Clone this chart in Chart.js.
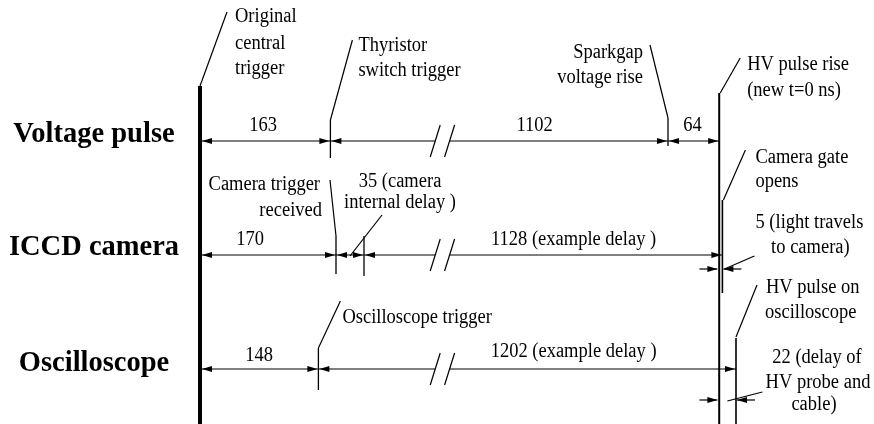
<!DOCTYPE html>
<html>
<head>
<meta charset="utf-8">
<script src="https://cdn.jsdelivr.net/npm/chart.js@4.4.1/dist/chart.umd.min.js"></script>
<style>
  html, body { margin: 0; padding: 0; background: #fff; }
  #wrap { width: 874px; height: 424px; }
</style>
</head>
<body>
<div id="wrap"><canvas id="timing"></canvas></div>
<script>
// rows of the timing diagram (top to bottom)
const rowNames = ['Voltage pulse', 'ICCD camera', 'Oscilloscope'];

// delays in ns between successive events of each row
const voltageDelays = [163, 1102, 64];
const cameraDelays = [170, 35, 1128];
const scopeDelays = [148, 1202];
const lightTravel = 5;   // HV rise -> camera gate
const probeDelay = 22;   // HV rise -> seen on oscilloscope

// segment labels
const voltageLabels = ['163', '1102', '64'];
const cameraLabels = ['170', '35 (camera', '1128 (example delay )'];
const scopeLabels = ['148', '1202 (example delay )'];

// broken time axis (ns)
const breakStart = 294;
const breakEnd = 992;
const breakShown = 18;

const cum = a => a.reduce((acc, d) => { acc.push(acc[acc.length - 1] + d); return acc; }, [0]);
const vT = cum(voltageDelays);   // 0, 163, 1265, 1329
const cT = cum(cameraDelays);    // 0, 170, 205, 1333
const sT = cum(scopeDelays);     // 0, 148, 1350

function squeeze(t) {
    if (t <= breakStart) return t;
    if (t >= breakEnd) return t - (breakEnd - breakStart) + breakShown;
    return breakStart + (t - breakStart) * breakShown / (breakEnd - breakStart);
}

const ink = '#000';
const serif = '"Liberation Serif", "Times New Roman", serif';

// horizontal dimension lines, cut at the axis break
const datasets = [];
[vT, cT, sT].forEach((ts, r) => {
    const end = ts[ts.length - 1];
    datasets.push({ data: [{ x: squeeze(0), y: r }, { x: squeeze(breakStart), y: r }] });
    datasets.push({ data: [{ x: squeeze(breakEnd), y: r }, { x: squeeze(end), y: r }] });
});
datasets.forEach(d => {
    d.borderColor = ink;
    d.borderWidth = 1.2;
    d.pointRadius = 0;
    d.fill = false;
    d.tension = 0;
});

const diagramPlugin = {
    id: 'diagram',
    afterDatasetsDraw(chart) {
        const ctx = chart.ctx;
        const xs = chart.scales.x, ys = chart.scales.y;
        const X = t => xs.getPixelForValue(squeeze(t));
        const Y = r => ys.getPixelForValue(r);
        const bottom = chart.height;

        const line = (x1, y1, x2, y2, w) => {
            ctx.lineWidth = w;
            ctx.beginPath();
            ctx.moveTo(x1, y1);
            ctx.lineTo(x2, y2);
            ctx.stroke();
        };
        const head = (x, y, dir) => {
            ctx.beginPath();
            ctx.moveTo(x, y);
            ctx.lineTo(x - dir * 10, y - 3);
            ctx.lineTo(x - dir * 10, y + 3);
            ctx.closePath();
            ctx.fill();
        };
        // the reference type is a little taller than it is wide
        const text = (s, x, y, align, font, stretch) => {
            ctx.save();
            ctx.font = font || ('18.5px ' + serif);
            ctx.textAlign = align || 'left';
            ctx.textBaseline = 'alphabetic';
            ctx.translate(x, y);
            ctx.scale(1, stretch || 1.08);
            ctx.fillText(s, 0, 0);
            ctx.restore();
        };

        ctx.save();
        ctx.strokeStyle = ink;
        ctx.fillStyle = ink;
        ctx.lineCap = 'butt';

        const gate = cT[3];

        // event lines
        line(X(0), Y(0) - 55, X(0), bottom, 4);
        line(X(vT[3]), Y(0) - 48, X(vT[3]), bottom, 2);
        line(X(gate), Y(1) - 55, X(gate), Y(1) + 38, 1.6);
        line(X(sT[2]), Y(2) - 31, X(sT[2]), bottom, 1.6);

        // ticks
        line(X(vT[1]), Y(0) - 21, X(vT[1]), Y(0) + 17, 1.3);
        line(X(vT[2]), Y(0) - 23, X(vT[2]), Y(0) + 5, 1.3);
        line(X(cT[1]), Y(1) - 19, X(cT[1]), Y(1) + 19, 1.3);
        line(X(cT[2]), Y(1) - 19, X(cT[2]), Y(1) + 21, 1.3);
        line(X(sT[1]), Y(2) - 21, X(sT[1]), Y(2) + 21, 1.3);

        // arrowheads + break marks
        [vT, cT, sT].forEach((ts, r) => {
            for (let i = 0; i < ts.length - 1; i++) {
                head(X(ts[i]) + (i === 0 ? 2 : 1), Y(r), -1);
                head(X(ts[i + 1]) - 1, Y(r), 1);
            }
            [breakStart, breakEnd].forEach(t => line(X(t) - 5, Y(r) + 16, X(t) + 5, Y(r) - 16, 1.2));
        });

        // small delays shown with outside arrows
        const dimOut = (t1, t2, y) => {
            const a = X(t1) - 1, b = X(t2) + 1;
            line(a - 18, y, a, y, 1.2);
            head(a, y, 1);
            line(b, y, b + 18, y, 1.2);
            head(b, y, -1);
        };
        dimOut(gate - lightTravel, gate, Y(1) + 14);
        dimOut(sT[2] - probeDelay, sT[2], Y(2) + 31);

        // leader lines
        const mid35 = X((cT[1] + cT[2]) / 2);
        line(X(0), Y(0) - 55, X(0) + 27, Y(0) - 129, 1.2);
        line(X(vT[1]), Y(0) - 21, X(vT[1]) + 22, Y(0) - 101, 1.2);
        line(X(vT[2]), Y(0) - 23, X(vT[2]) - 18, Y(0) - 96, 1.2);
        line(X(vT[3]) + 1, Y(0) - 48, X(vT[3]) + 21, Y(0) - 83, 1.2);
        line(X(cT[1]), Y(1) - 19, X(cT[1]) - 6, Y(1) - 75, 1.2);
        line(mid35, Y(1) + 1, mid35 + 32, Y(1) - 40, 1.2);
        line(X(gate) + 1, Y(1) - 55, X(gate) + 23, Y(1) - 105, 1.2);
        line(X(gate) + 2, Y(1) + 14, X(gate) + 32, Y(1) + 1, 1.2);
        line(X(sT[1]), Y(2) - 21, X(sT[1]) + 22, Y(2) - 68, 1.2);
        line(X(sT[2]), Y(2) - 32, X(sT[2]) + 21, Y(2) - 84, 1.2);
        line(X(sT[2] - probeDelay) + 9, Y(2) + 32, X(sT[2] - probeDelay) + 44, Y(2) + 23, 1.2);

        // row titles
        const bold = 'bold 28.5px ' + serif;
        text(rowNames[0], 94, Y(0) + 0.5, 'center', bold, 1.06);
        text(rowNames[1], 94, Y(1), 'center', bold, 1.06);
        text(rowNames[2], 94, Y(2) + 2, 'center', bold, 1.06);

        // segment values
        const mid = (a, b) => (X(a) + X(b)) / 2;
        text(voltageLabels[0], mid(vT[0], vT[1]) - 2, Y(0) - 10, 'center');
        text(voltageLabels[1], X(breakEnd) + 85, Y(0) - 10, 'center');
        text(voltageLabels[2], mid(vT[2], vT[3]) - 1, Y(0) - 10, 'center');
        text(cameraLabels[0], mid(cT[0], cT[1]) - 18, Y(1) - 10, 'center');
        text(cameraLabels[1], mid35 + 50, Y(1) - 68, 'center');
        text('internal delay )', mid35 + 50, Y(1) - 47, 'center');
        text(cameraLabels[2], X(breakEnd) + 124, Y(1) - 10, 'center');
        text(scopeLabels[0], mid(sT[0], sT[1]), Y(2) - 8, 'center');
        text(scopeLabels[1], X(breakEnd) + 124, Y(2) - 12, 'center');

        // event annotations
        text('Original', X(0) + 35, Y(0) - 119);
        text('central', X(0) + 35, Y(0) - 92);
        text('trigger', X(0) + 35, Y(0) - 67);
        text('Thyristor', X(vT[1]) + 28, Y(0) - 90);
        text('switch trigger', X(vT[1]) + 28, Y(0) - 65);
        text('Sparkgap', X(vT[2]) - 25, Y(0) - 83, 'right');
        text('voltage rise', X(vT[2]) - 25, Y(0) - 58, 'right');
        text('HV pulse rise', X(vT[3]) + 28, Y(0) - 71);
        text('(new t=0 ns)', X(vT[3]) + 28, Y(0) - 45);

        text('Camera trigger', X(cT[1]) - 16, Y(1) - 65, 'right');
        text('received', X(cT[1]) - 14, Y(1) - 39, 'right');
        text('Camera gate', X(gate) + 33, Y(1) - 92);
        text('opens', X(gate) + 33, Y(1) - 68);
        text(lightTravel + ' (light travels', X(gate) + 87, Y(1) - 27, 'center');
        text('to camera)', X(gate) + 88, Y(1) - 2, 'center');

        text('Oscilloscope trigger', X(sT[1]) + 24, Y(2) - 46);
        text('HV pulse on', X(sT[2]) + 30, Y(2) - 76);
        text('oscilloscope', X(sT[2]) + 29, Y(2) - 51);
        text(probeDelay + ' (delay of', X(sT[2]) + 81, Y(2) - 6, 'center');
        text('HV probe and', X(sT[2]) + 82, Y(2) + 19, 'center');
        text('cable)', X(sT[2]) + 78, Y(2) + 41, 'center');

        ctx.restore();
    }
};

new Chart(document.getElementById('timing').getContext('2d'), {
    type: 'line',
    data: { datasets: datasets },
    options: {
        responsive: true,
        maintainAspectRatio: false,
        animation: false,
        events: [],
        layout: { padding: 0 },
        plugins: {
            legend: { display: false },
            tooltip: { enabled: false },
            title: { display: false }
        },
        scales: {
            x: { type: 'linear', display: false, min: -250, max: 842.5 },
            y: { type: 'linear', display: false, reverse: true, min: -141 / 114, max: 283 / 114 }
        }
    },
    plugins: [diagramPlugin]
});
</script>
</body>
</html>
